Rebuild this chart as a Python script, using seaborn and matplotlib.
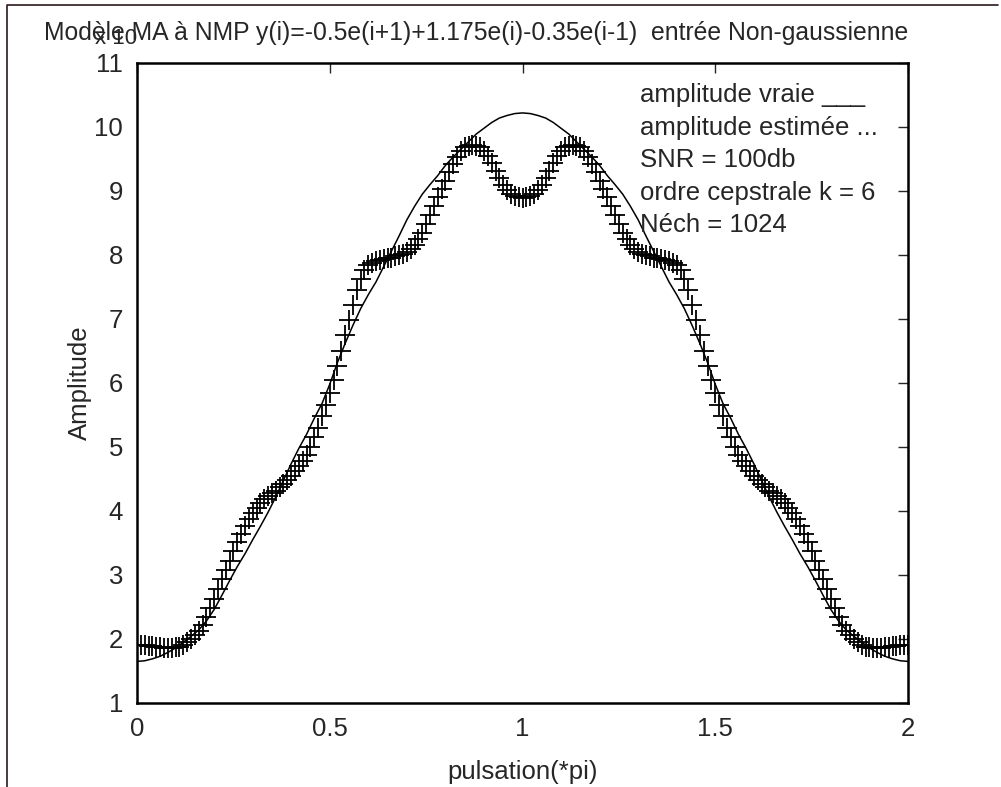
import numpy as np
import pandas as pd
import matplotlib
matplotlib.use("Agg")
import matplotlib.pyplot as plt
from matplotlib.lines import Line2D
import seaborn as sns

# estimated amplitude (crosses), pulsation step 0.01
puls_est = [round(i * 0.01, 2) for i in range(201)]
amp_est = [
    1.90, 1.90, 1.90, 1.89, 1.89, 1.88, 1.87, 1.86, 1.86, 1.86,
    1.87, 1.88, 1.91, 1.95, 2.00, 2.06, 2.13, 2.22, 2.35, 2.48,
    2.62, 2.78, 2.93, 3.08, 3.22, 3.37, 3.51, 3.64, 3.76, 3.88,
    3.97, 4.05, 4.12, 4.18, 4.23, 4.28, 4.32, 4.37, 4.42, 4.48,
    4.55, 4.63, 4.70, 4.78, 4.88, 5.00, 5.15, 5.30, 5.48, 5.66,
    5.85, 6.05, 6.27, 6.50, 6.75, 6.98, 7.22, 7.45, 7.62, 7.76,
    7.84, 7.88, 7.90, 7.92, 7.93, 7.95, 7.96, 7.98, 8.00, 8.02,
    8.05, 8.10, 8.16, 8.25, 8.35, 8.48, 8.62, 8.76, 8.90, 9.03,
    9.16, 9.30, 9.42, 9.53, 9.62, 9.68, 9.71, 9.72, 9.71, 9.68,
    9.62, 9.54, 9.44, 9.32, 9.20, 9.10, 9.02, 8.96, 8.92, 8.90,
    8.89,
    8.90, 8.92, 8.96, 9.02, 9.10, 9.20, 9.32, 9.44, 9.54, 9.62,
    9.68, 9.71, 9.72, 9.71, 9.68, 9.62, 9.53, 9.42, 9.30, 9.16,
    9.03, 8.90, 8.76, 8.62, 8.48, 8.35, 8.25, 8.16, 8.10, 8.05,
    8.02, 8.00, 7.98, 7.96, 7.95, 7.93, 7.92, 7.90, 7.88, 7.84,
    7.76, 7.62, 7.45, 7.22, 6.98, 6.75, 6.50, 6.27, 6.05, 5.85,
    5.66, 5.48, 5.30, 5.15, 5.00, 4.88, 4.78, 4.70, 4.63, 4.55,
    4.48, 4.42, 4.37, 4.32, 4.28, 4.23, 4.18, 4.12, 4.05, 3.97,
    3.88, 3.76, 3.64, 3.51, 3.37, 3.22, 3.08, 2.93, 2.78, 2.62,
    2.48, 2.35, 2.22, 2.13, 2.06, 2.00, 1.95, 1.91, 1.88, 1.87,
    1.86, 1.86, 1.86, 1.87, 1.88, 1.89, 1.89, 1.90, 1.90, 1.90,
]

# true amplitude (solid line), pulsation step 0.02
puls_true = [round(i * 0.02, 2) for i in range(101)]
amp_true = [
    1.65, 1.66, 1.69, 1.73, 1.79, 1.86, 1.95, 2.04, 2.14, 2.28,
    2.46, 2.68, 2.91, 3.13, 3.33, 3.55, 3.76, 3.98, 4.22, 4.48,
    4.74, 4.98, 5.20, 5.45, 5.68, 5.98, 6.32, 6.62, 6.90, 7.16,
    7.38, 7.58, 7.82, 8.06, 8.30, 8.55, 8.76, 8.95, 9.10, 9.24,
    9.40, 9.53, 9.65, 9.77, 9.89, 9.98, 10.07, 10.14, 10.18, 10.21,
    10.22,
    10.21, 10.18, 10.14, 10.07, 9.98, 9.89, 9.77, 9.65, 9.53, 9.40,
    9.24, 9.10, 8.95, 8.76, 8.55, 8.30, 8.06, 7.82, 7.58, 7.38,
    7.16, 6.90, 6.62, 6.32, 5.98, 5.68, 5.45, 5.20, 4.98, 4.74,
    4.48, 4.22, 3.98, 3.76, 3.55, 3.33, 3.13, 2.91, 2.68, 2.46,
    2.28, 2.14, 2.04, 1.95, 1.86, 1.79, 1.73, 1.69, 1.66, 1.65,
]

xticks = [0, 0.5, 1, 1.5, 2]
xtick_labels = ["0", "0.5", "1", "1.5", "2"]
yticks = list(range(1, 12))
info_lines = ["amplitude vraie ___", "amplitude estimée ...", "SNR = 100db",
              "ordre cepstrale k = 6", "Néch = 1024"]
title = "Modèle MA à NMP y(i)=-0.5e(i+1)+1.175e(i)-0.35e(i-1)  entrée Non-gaussienne"

sns.set_style("white")
plt.rcParams["font.family"] = ["Liberation Sans", "DejaVu Sans"]
fs = 18.5

fig = plt.figure(figsize=(10.01, 7.87), dpi=100)
ax = fig.add_axes([137 / 1001, 84 / 787, 771 / 1001, 640 / 787])

df_true = pd.DataFrame({"puls": puls_true, "amp": amp_true})
df_est = pd.DataFrame({"puls": puls_est, "amp": amp_est})

sns.lineplot(data=df_true, x="puls", y="amp", ax=ax, color="black",
             linewidth=1.1, estimator=None)
sns.scatterplot(data=df_est, x="puls", y="amp", ax=ax, color="black",
                marker="+", s=200, linewidth=1.3, zorder=3)

ax.set_xlim(0, 2)
ax.set_ylim(1, 11)
ax.set_xticks(xticks)
ax.set_xticklabels(xtick_labels)
ax.set_yticks(yticks)
ax.tick_params(direction="in", length=7, width=1, labelsize=fs,
               top=True, right=True, pad=10)
for sp in ax.spines.values():
    sp.set_visible(True)
    sp.set_color("black")
    sp.set_linewidth(1.8)

ax.set_xlabel("pulsation(*pi)", fontsize=fs)
ax.set_ylabel("Amplitude", fontsize=fs)
ax.xaxis.set_label_coords(0.5, -0.089)
ax.yaxis.set_label_coords(-0.058, 0.5)

for k, txt in enumerate(info_lines):
    ax.text(1.305, 10.5 - k * 0.508, txt, fontsize=fs, va="center", ha="left")

fig.text(476 / 1001, 1 - 33 / 787, title, fontsize=17.8, ha="center", va="center")
fig.text(95 / 1001, 1 - 38 / 787, "x 10", fontsize=16, ha="left", va="center")

# outer frame (left and top edges)
fig.add_artist(Line2D([7 / 1001, 7 / 1001, 998 / 1001], [0, 1 - 5 / 787, 1 - 5 / 787],
                      transform=fig.transFigure, color="#2b1a1a", linewidth=1.2))

fig.savefig("out.png", dpi=100)
